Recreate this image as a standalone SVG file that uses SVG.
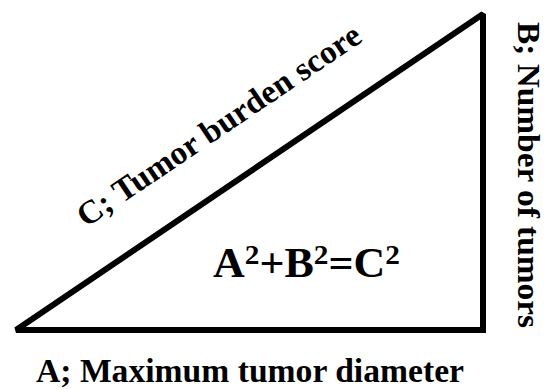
<svg xmlns="http://www.w3.org/2000/svg" width="547" height="389" viewBox="0 0 547 389">
  <style>
    .lbl { font-family: "Liberation Serif", "Times New Roman", serif; font-weight: bold; fill: #000; }
    .edge { fill: none; stroke: #000; stroke-width: 6; stroke-linejoin: miter; stroke-miterlimit: 2; }
  </style>
  <rect width="547" height="389" fill="#fff"/>
  <g id="triangle">
    <polygon class="edge" points="16,330 483,330 483,14"/>
  </g>
  <g id="label-c">
    <text class="lbl" font-size="33" transform="translate(86,228) rotate(-34)" textLength="335" lengthAdjust="spacingAndGlyphs">C; Tumor burden score</text>
  </g>
  <g id="label-b">
    <text class="lbl" font-size="32" transform="translate(518,22) rotate(90)" textLength="306" lengthAdjust="spacingAndGlyphs">B; Number of tumors</text>
  </g>
  <g id="label-a">
    <text class="lbl" font-size="33" x="36" y="382" textLength="428" lengthAdjust="spacingAndGlyphs">A; Maximum tumor diameter</text>
  </g>
  <g id="formula">
    <text class="lbl" font-size="42" x="213" y="277" textLength="187" lengthAdjust="spacingAndGlyphs">A<tspan font-size="28" dy="-13">2</tspan><tspan dy="13">+B</tspan><tspan font-size="28" dy="-13">2</tspan><tspan dy="13">=C</tspan><tspan font-size="28" dy="-13">2</tspan></text>
  </g>
</svg>
